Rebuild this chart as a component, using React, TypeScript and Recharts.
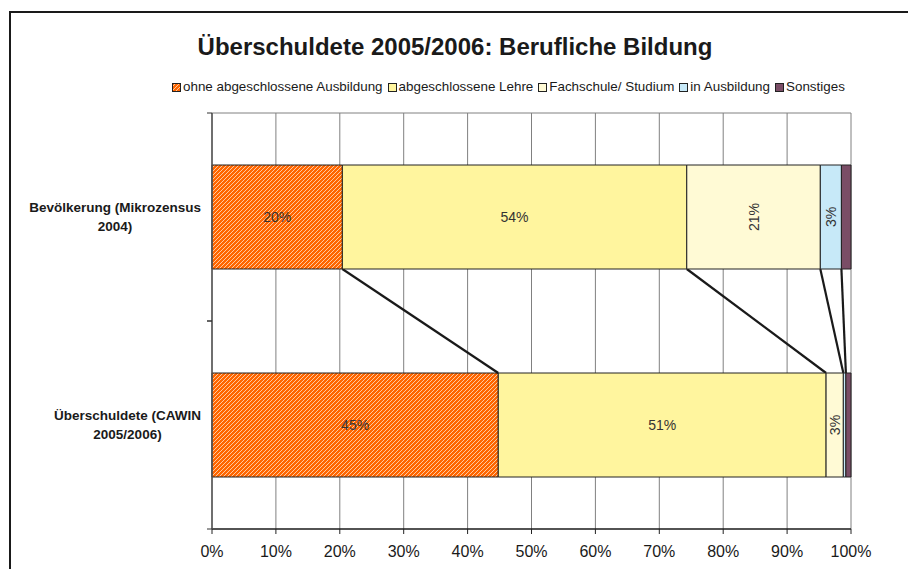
import React from 'react';
import { BarChart, Bar, XAxis, YAxis, CartesianGrid, LabelList, Rectangle } from 'recharts';

const categories = ['Bevölkerung (Mikrozensus 2004)', 'Überschuldete (CAWIN 2005/2006)'];
const seriesNames = [
  'ohne abgeschlossene Ausbildung',
  'abgeschlossene Lehre',
  'Fachschule/ Studium',
  'in Ausbildung',
  'Sonstiges',
];
const ohneAbschluss = [20.4, 44.8];
const lehre = [53.9, 51.3];
const fachschule = [20.9, 2.7];
const inAusbildung = [3.3, 0.4];
const sonstiges = [1.5, 0.8];
const xTicks = [0, 10, 20, 30, 40, 50, 60, 70, 80, 90, 100];

const seriesKeys = ['ohne', 'lehre', 'fach', 'inAusb', 'sonst'];
const seriesValues = [ohneAbschluss, lehre, fachschule, inAusbildung, sonstiges];
const seriesColors = ['url(#orangeStripes)', '#FFF59E', '#FFFAD5', '#C7E9F8', '#7A4D66'];

const FONT = "'Liberation Sans', Arial, sans-serif";

const data = categories.map((c, i) => {
  const row: any = { category: c };
  seriesKeys.forEach((k, j) => {
    row[k] = seriesValues[j][i];
  });
  return row;
});

const cumulative = categories.map((_, i) => {
  let s = 0;
  return seriesValues.map((arr) => (s += arr[i]));
});

let measureCtx: CanvasRenderingContext2D | null = null;
const measure = (text: string, font: string) => {
  if (!measureCtx) measureCtx = document.createElement('canvas').getContext('2d');
  if (!measureCtx) return text.length * 7;
  measureCtx.font = font;
  return measureCtx.measureText(text).width;
};

const CAT_FONT_SIZE = 13.5;
const CAT_TICK_MARGIN = 11;

const CategoryTick = (props: any) => {
  const { x, y, payload } = props;
  const label: string = String(payload.value);
  const cut = label.lastIndexOf(' ');
  const lines = [label.slice(0, cut), label.slice(cut + 1)];
  const font = `bold ${CAT_FONT_SIZE}px ${FONT}`;
  const w = Math.max(...lines.map((l) => measure(l, font)));
  const cx = x - w / 2;
  const axisX = x + CAT_TICK_MARGIN;
  const half = payload.offset || 0;
  return (
    <g>
      {lines.map((l, i) => (
        <text
          key={i}
          x={cx}
          y={y + (i === 0 ? -9.5 : 9.5)}
          textAnchor="middle"
          dominantBaseline="central"
          fontFamily={FONT}
          fontWeight="bold"
          fontSize={CAT_FONT_SIZE}
          fill="#1a1a1a"
        >
          {l}
        </text>
      ))}
      {half > 0 && (
        <>
          <line x1={axisX - 5} x2={axisX} y1={y - half} y2={y - half} stroke="#333" strokeWidth={1} />
          <line x1={axisX - 5} x2={axisX} y1={y + half} y2={y + half} stroke="#333" strokeWidth={1} />
        </>
      )}
    </g>
  );
};

const makeLabel = (rotate: boolean, minValue: number) => (props: any) => {
  const { x, y, width, height, value } = props;
  if (value == null || value < minValue) return null;
  const cx = Number(x) + Number(width) / 2;
  const cy = Number(y) + Number(height) / 2;
  return (
    <text
      x={cx}
      y={cy}
      textAnchor="middle"
      dominantBaseline="central"
      fill="#333"
      fontSize={14}
      fontFamily={FONT}
      transform={rotate ? `rotate(-90 ${cx} ${cy})` : undefined}
    >
      {`${Math.round(value)}%`}
    </text>
  );
};

const labelConfig: Array<[boolean, number] | null> = [
  [false, 1],
  [false, 1],
  [true, 1],
  [true, 1],
  null,
];

// Shape for the first series: draws the bar and, on the second category,
// Excel-style series lines back to the first category's bar, using the bar's
// own pixel geometry to derive the value scale.
const FirstSeriesShape = (props: any) => {
  const { x, y, width, height, index, payload } = props;
  const rect = <Rectangle {...props} />;
  if (index !== 1) return rect;
  const ppu = width / payload[seriesKeys[0]];
  const x0 = x;
  const topBarBottom = y - height; // gap between bars equals bar height (25% category gap)
  return (
    <g>
      {rect}
      {[0, 1, 2, 3].map((j) => (
        <line
          key={j}
          x1={x0 + cumulative[0][j] * ppu}
          y1={topBarBottom}
          x2={x0 + cumulative[1][j] * ppu}
          y2={y}
          stroke="#1a1a1a"
          strokeWidth={2.2}
        />
      ))}
    </g>
  );
};

const Marker = ({ fill }: { fill: string }) => (
  <svg width={9} height={9} style={{ display: 'block', marginRight: 2 }}>
    <rect x={0.5} y={0.5} width={8} height={8} fill={fill} stroke="#222" strokeWidth={1} />
  </svg>
);

export default function App() {
  return (
    <div style={{ position: 'absolute', left: 0, top: 0, width: 908, height: 569, overflow: 'hidden', background: '#fff' }}>
      <svg width={0} height={0} style={{ position: 'absolute' }}>
        <defs>
          <pattern id="orangeStripes" patternUnits="userSpaceOnUse" x={0} y={0} width={4} height={4}>
            <rect x={0} y={0} width={4} height={4} fill="#FF6600" />
            <rect x={3} y={0} width={1} height={1} fill="#FFC9A0" />
            <rect x={2} y={1} width={1} height={1} fill="#FFC9A0" />
            <rect x={1} y={2} width={1} height={1} fill="#FFC9A0" />
            <rect x={0} y={3} width={1} height={1} fill="#FFC9A0" />
          </pattern>
        </defs>
      </svg>
      <div
        style={{
          position: 'absolute',
          left: 9,
          top: 11,
          width: 1000,
          height: 1000,
          border: '2px solid #1a1a1a',
        }}
      />
      <div
        style={{
          position: 'absolute',
          left: 0,
          top: 33,
          width: 910,
          textAlign: 'center',
          fontFamily: FONT,
          fontWeight: 'bold',
          fontSize: 24,
          lineHeight: '28px',
          color: '#1a1a1a',
        }}
      >
        Überschuldete 2005/2006: Berufliche Bildung
      </div>
      <div
        style={{
          position: 'absolute',
          left: 172,
          top: 79,
          display: 'flex',
          alignItems: 'center',
          fontFamily: FONT,
          fontSize: 13.4,
          lineHeight: '16px',
          color: '#1a1a1a',
          whiteSpace: 'nowrap',
        }}
      >
        {seriesNames.map((n, i) => (
          <div key={n} style={{ display: 'flex', alignItems: 'center', marginRight: 5 }}>
            <Marker fill={seriesColors[i]} />
            <span>{n}</span>
          </div>
        ))}
      </div>
      <div style={{ position: 'absolute', left: 0, top: 0 }}>
        <BarChart
          width={908}
          height={569}
          data={data}
          layout="vertical"
          margin={{ top: 113, right: 57, bottom: 10, left: 0 }}
          barCategoryGap="25%"
        >
          <CartesianGrid
            yAxisId="cat"
            stroke="#808080"
            strokeWidth={1}
            horizontalCoordinatesGenerator={(p: any) => [p.offset.top]}
          />
          <XAxis
            type="number"
            domain={[0, 100]}
            ticks={xTicks}
            interval={0}
            tickFormatter={(v: number) => `${v}%`}
            height={30}
            axisLine={{ stroke: '#1a1a1a', strokeWidth: 1.5 }}
            tickLine={{ stroke: '#222' }}
            tickSize={5}
            tickMargin={12}
            tick={{ fill: '#1a1a1a', fontSize: 16, fontFamily: FONT }}
          />
          <YAxis
            yAxisId="cat"
            type="category"
            dataKey="category"
            width={212}
            axisLine={{ stroke: '#555', strokeWidth: 1.5 }}
            tickLine={false}
            tickSize={0}
            tickMargin={CAT_TICK_MARGIN}
            tick={<CategoryTick />}
          />
          {seriesKeys.map((k, j) => {
            const cfg = labelConfig[j];
            return (
              <Bar
                key={k}
                dataKey={k}
                name={seriesNames[j]}
                stackId="a"
                yAxisId="cat"
                fill={seriesColors[j]}
                stroke="#222"
                strokeWidth={1}
                isAnimationActive={false}
                shape={j === 0 ? (p: any) => <FirstSeriesShape {...p} /> : undefined}
              >
                {cfg && <LabelList dataKey={k} content={makeLabel(cfg[0], cfg[1])} />}
              </Bar>
            );
          })}
        </BarChart>
      </div>
    </div>
  );
}
